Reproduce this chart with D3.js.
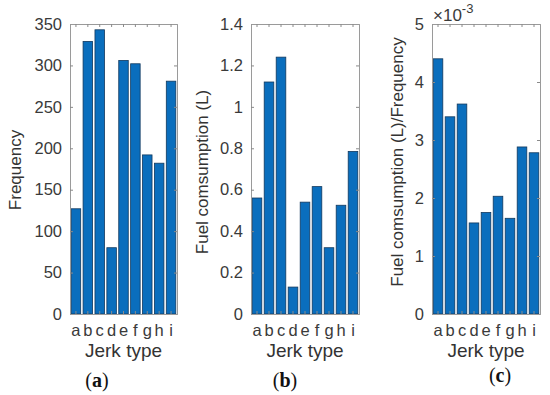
<!DOCTYPE html>
<html>
<head>
<meta charset="utf-8">
<script src="https://cdn.jsdelivr.net/npm/d3@7"></script>
<style>
  body { margin: 0; background: #fff; }
  text { font-family: "Liberation Sans", Arial, sans-serif; }
</style>
</head>
<body>
<script>
let width = 550,
  height = 395,
  top0 = 24,
  bottom0 = 314

// data
let jerkTypes = ['a', 'b', 'c', 'd', 'e', 'f', 'g', 'h', 'i']
let frequency = [127, 329, 343, 80, 306, 302, 192, 182, 281]
let fuel = [0.56, 1.12, 1.24, 0.13, 0.54, 0.615, 0.32, 0.525, 0.785]
let fuelPerFreq = [0.0044, 0.0034, 0.00362, 0.00157, 0.00175, 0.00203, 0.00165, 0.00288, 0.00278]

let freqTicks = [0, 50, 100, 150, 200, 250, 300, 350]
let fuelTicks = [0, 0.2, 0.4, 0.6, 0.8, 1, 1.2, 1.4]
let ratioTicks = [0, 0.001, 0.002, 0.003, 0.004, 0.005]

let panels = [
  { values: frequency, ticks: freqTicks, max: 350, fmt: d => d, ylabel: 'Frequency',
    x0: 70, x1: 177, labelX: 15, labelY: 170, tag: 'a', tagX: 97, tagY: 387 },
  { values: fuel, ticks: fuelTicks, max: 1.4, fmt: d3.format('~g'), ylabel: 'Fuel comsumption (L)',
    x0: 251, x1: 359, labelX: 202, labelY: 172, tag: 'b', tagX: 285, tagY: 387 },
  { values: fuelPerFreq, ticks: ratioTicks, max: 0.005, fmt: d => d3.format('~g')(d * 1000), ylabel: 'Fuel comsumption (L)/Frequency',
    x0: 432, x1: 540, labelX: 397, labelY: 162, tag: 'c', tagX: 500, tagY: 382, exp: true }
]

let svg = d3.select('body').append('svg')
  .attr('width', width)
  .attr('height', height)

panels.forEach(p => {
  let x = d3.scaleBand()
    .domain(jerkTypes)
    .range([p.x0, p.x1])
    .paddingInner(0.2)
    .paddingOuter(0.1)

  let y = d3.scaleLinear()
    .domain([0, p.max])
    .range([bottom0, top0])

  let g = svg.append('g').attr('class', 'panel')

  // bars
  g.selectAll('.bar')
    .data(p.values)
    .enter().append('rect')
    .attr('class', 'bar')
    .attr('x', (d, i) => x(jerkTypes[i]))
    .attr('width', x.bandwidth())
    .attr('y', d => y(d))
    .attr('height', d => y(0) - y(d))
    .attr('fill', '#0a6ebd')
    .attr('stroke', '#12395e')
    .attr('stroke-width', 0.8)

  // axes, MATLAB style ticks pointing inward
  let left = g.append('g')
    .attr('transform', `translate(${p.x0},0)`)
    .call(d3.axisLeft(y).tickValues(p.ticks).tickSize(-3).tickPadding(8).tickFormat(p.fmt))
  let right = g.append('g')
    .attr('transform', `translate(${p.x1},0)`)
    .call(d3.axisRight(y).tickValues(p.ticks).tickSize(-3).tickFormat(''))
  let bottom = g.append('g')
    .attr('transform', `translate(0,${bottom0})`)
    .call(d3.axisBottom(x).tickSize(-3).tickPadding(10))
  let topAx = g.append('g')
    .attr('transform', `translate(0,${top0})`)
    .call(d3.axisTop(x).tickSize(-3).tickFormat(''))

  ;[left, right, bottom, topAx].forEach(a => {
    a.select('.domain').attr('stroke', '#9a9a9a')
    a.selectAll('.tick line').attr('stroke', '#8a8a8a')
    a.selectAll('text').attr('fill', '#3a3a3a').attr('font-family', '"Liberation Sans", Arial, sans-serif')
  })
  left.selectAll('text').attr('font-size', 16.5)
  bottom.selectAll('text').attr('font-size', 16.5)

  g.append('text')
    .attr('transform', `translate(${p.labelX + 6},${p.labelY}) rotate(-90)`)
    .attr('text-anchor', 'middle')
    .attr('font-size', 17)
    .attr('fill', '#333')
    .text(p.ylabel)

  g.append('text')
    .attr('x', (p.x0 + p.x1) / 2)
    .attr('y', 357)
    .attr('text-anchor', 'middle')
    .attr('font-size', 19)
    .attr('fill', '#333')
    .text('Jerk type')

  let tag = g.append('text')
    .attr('x', p.tagX)
    .attr('y', p.tagY)
    .attr('text-anchor', 'middle')
    .attr('font-size', 20)
    .attr('fill', '#111')
    .style('font-family', '"Liberation Serif", "Times New Roman", serif')
  tag.append('tspan').text('(')
  tag.append('tspan').attr('font-weight', 700).text(p.tag)
  tag.append('tspan').text(')')

  if (p.exp) {
    let e = g.append('text')
      .attr('x', p.x0 + 1)
      .attr('y', 21)
      .style('font-size', '17px')
      .attr('fill', '#3a3a3a')
    e.append('tspan').text('\u00d710')
    e.append('tspan').attr('dy', -8).style('font-size', '13px').text('-3')
  }
})
</script>
</body>
</html>
